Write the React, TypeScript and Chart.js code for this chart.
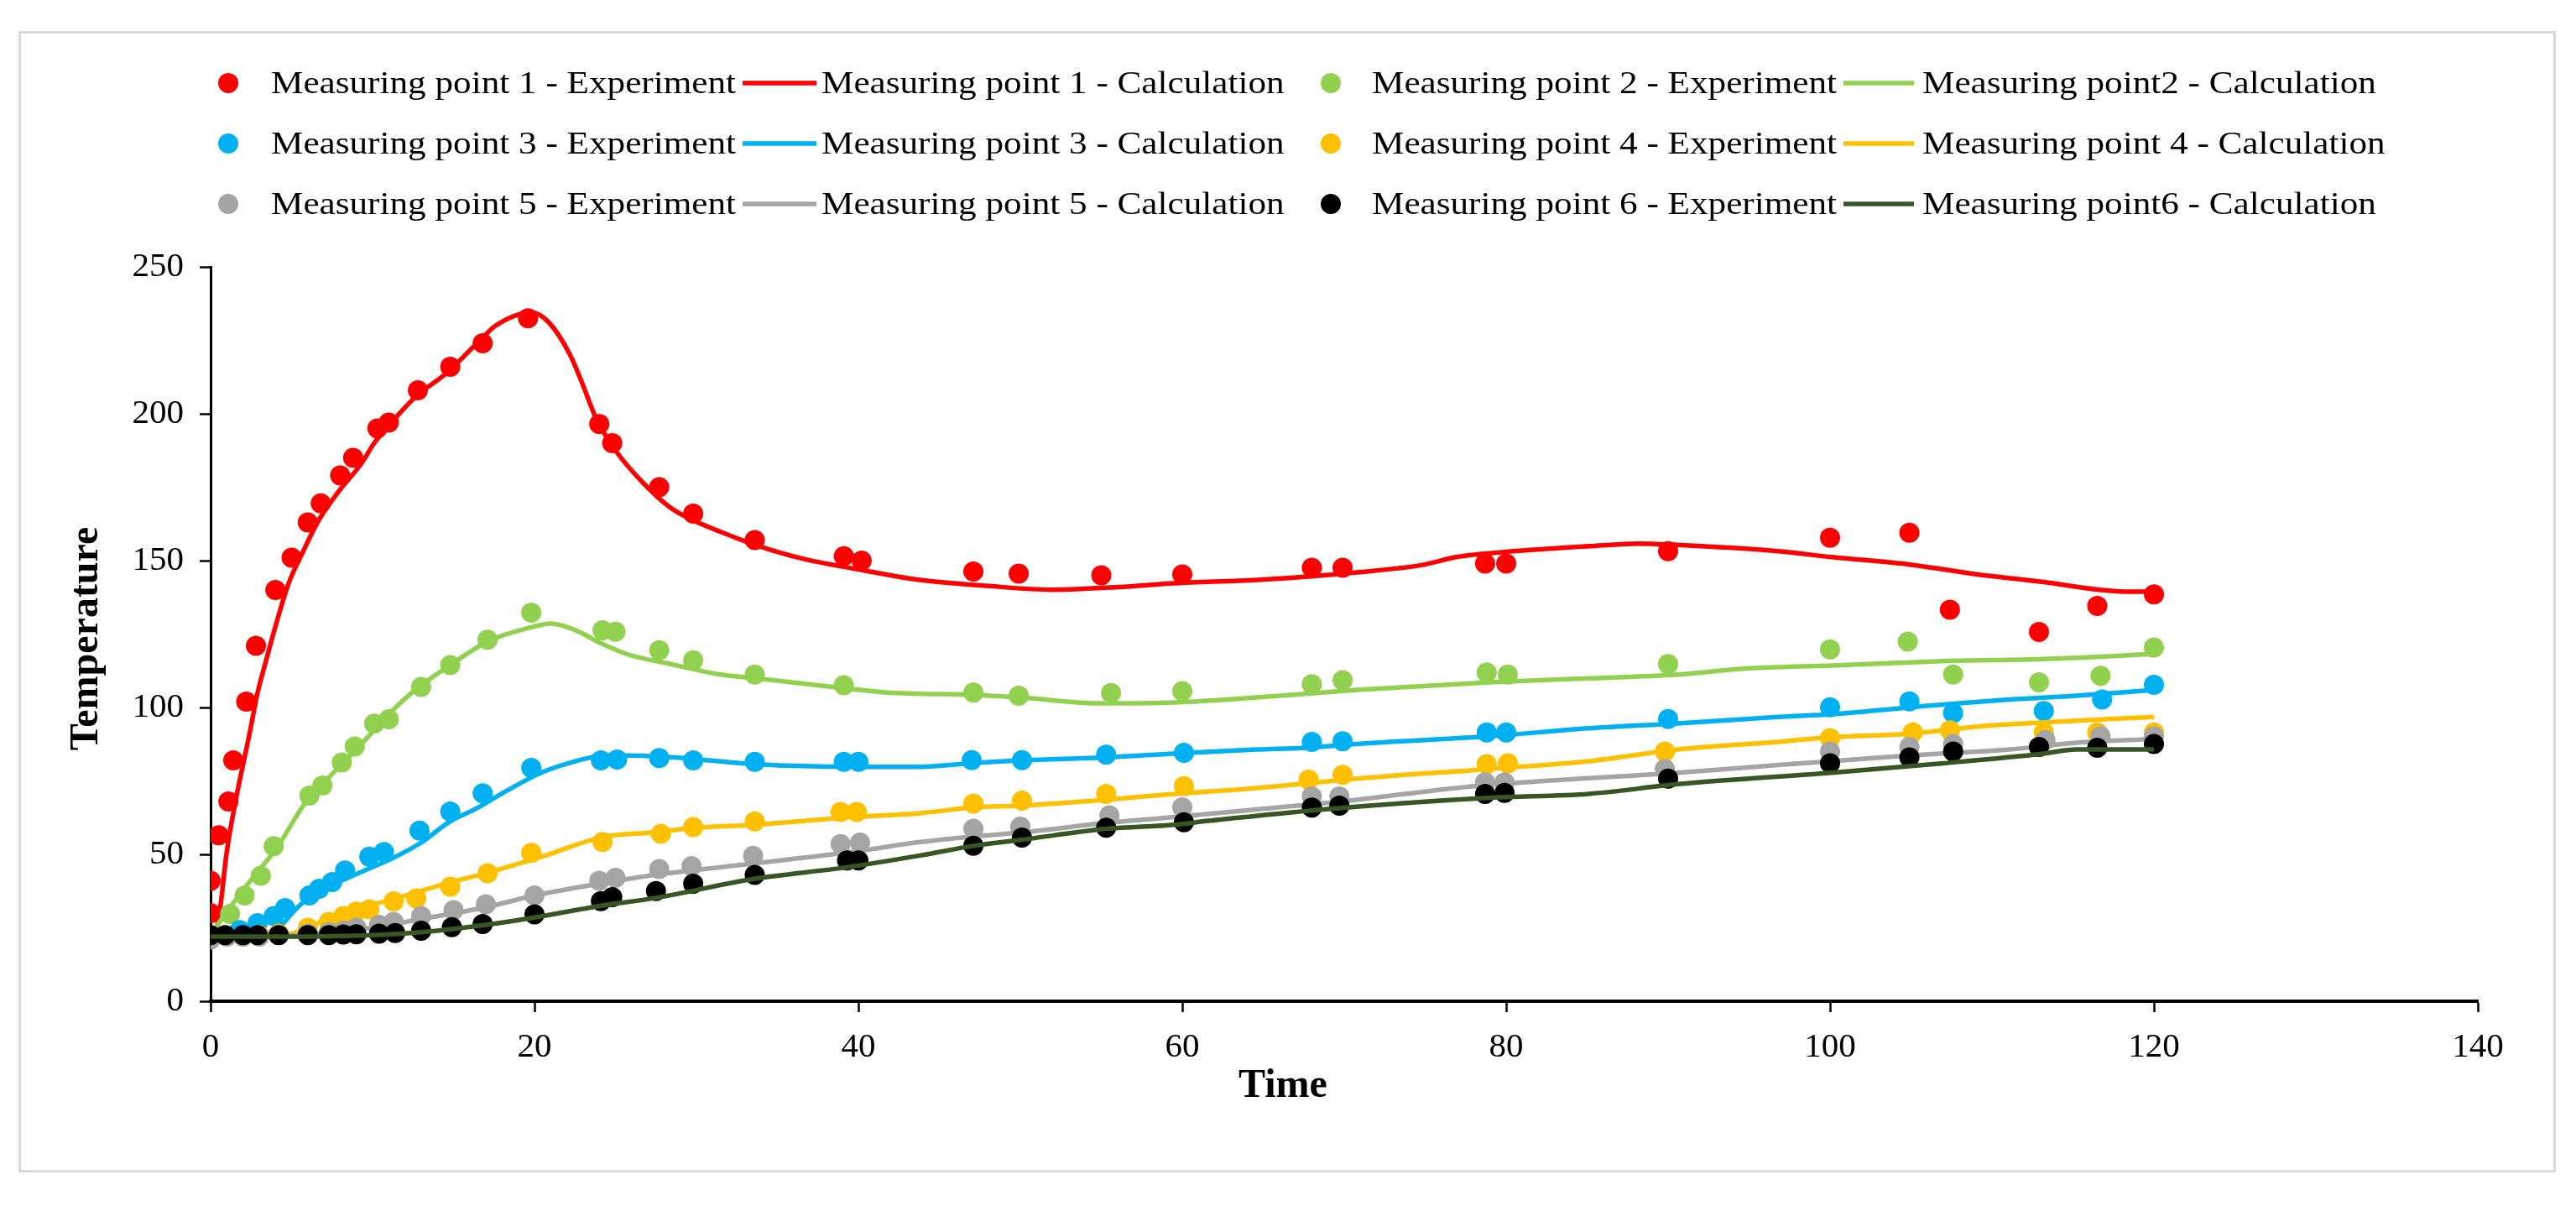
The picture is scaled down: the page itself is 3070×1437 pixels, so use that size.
import React, { useEffect, useRef } from 'react';
import { Chart, registerables } from 'chart.js';

Chart.register(...registerables);

type Pt = [number, number];

// ---- Data (time, temperature) ----
const p1Exp: Pt[] = [[0, 30], [0, 41], [0.5, 56.5], [1.1, 68], [1.4, 82], [2.2, 102], [2.8, 121], [4, 140], [5, 151], [6, 163], [6.8, 169.5], [8, 179], [8.8, 185], [10.3, 195], [11, 197], [12.8, 208], [14.8, 216], [16.8, 224], [19.6, 232.5], [24, 196.5], [24.8, 190], [27.7, 175], [29.8, 166], [33.6, 157], [39.1, 151.5], [40.2, 150], [47.1, 146.3], [49.9, 145.6], [55, 145], [60, 145.3], [68, 147.6], [69.9, 147.6], [78.7, 149], [80, 149], [90, 153.2], [100, 157.8], [104.9, 159.5], [107.4, 133.3], [112.9, 125.7], [116.5, 134.6], [120, 138.5]];
const p1Calc: Pt[] = [[0.2, 22], [0.5, 28], [1, 51], [1.5, 67], [2.4, 91], [2.9, 105], [3.4, 115.5], [4.1, 129.5], [4.8, 142], [5.7, 153], [6.7, 164], [7.9, 173.5], [9.3, 183], [10.1, 190], [11, 196], [12.7, 206], [14.6, 214], [16.9, 226.5], [17.6, 230], [19.8, 234.5], [20.9, 231], [22.2, 220], [22.9, 211], [23.8, 198.5], [25, 187.5], [26.7, 176.5], [28.4, 168], [29.8, 163.7], [31.5, 159.8], [33.6, 155.4], [36.6, 150.6], [39.7, 147.3], [43.8, 143.4], [47.9, 141.4], [52, 140.1], [56.1, 141], [59.5, 142.3], [64.6, 143.4], [70.8, 146], [74.9, 148.6], [76.9, 151.2], [80, 153], [85.1, 154.9], [88.2, 155.8], [90.3, 155.4], [96.8, 153.2], [100.1, 151.2], [105, 148.6], [109.1, 145.3], [113.2, 142.7], [116.6, 140.1], [118.5, 139.4], [120, 139.4]];

const p2Exp: Pt[] = [[1.2, 29.7], [2.1, 36], [3.1, 42.7], [3.9, 52.8], [6.1, 70], [6.9, 73.4], [8.1, 81.3], [8.9, 86.7], [10.1, 94.5], [11, 96], [13, 107], [14.8, 114.4], [17.1, 123.1], [19.8, 132.3], [24.2, 126.3], [25, 125.8], [27.7, 119.5], [29.8, 116.1], [33.6, 111.2], [39.1, 107.6], [47.1, 105.1], [49.9, 104], [55.6, 104.9], [60, 105.6], [68, 107.9], [69.9, 109.3], [78.8, 111.9], [80.1, 111.2], [90, 114.8], [100, 119.8], [104.8, 122.4], [107.6, 111.2], [112.9, 108.6], [116.7, 110.8], [120, 120.4]];
const p2Calc: Pt[] = [[0, 22], [0.5, 26.6], [2.4, 40.6], [4.1, 52.3], [5.8, 67.2], [7.5, 77.3], [9.3, 87.5], [11, 97.7], [12.7, 106.3], [14.5, 113.3], [17.2, 122.7], [19.8, 127.3], [21, 128.6], [22.4, 126.6], [24.1, 121.9], [25.8, 118], [28.4, 114.8], [31.5, 111.2], [33.6, 110], [39.1, 106.6], [41.8, 105.1], [47.1, 104.3], [50, 103.4], [55.1, 101.4], [59.5, 101.7], [64.6, 103.4], [70.8, 106], [79, 108.6], [85.1, 109.9], [90.6, 111.2], [94.7, 113.2], [100.1, 114.3], [107, 115.8], [113.2, 116.5], [120, 118.2]];

const p3Exp: Pt[] = [[1.8, 24.2], [2.9, 26.6], [3.9, 29], [4.6, 31.7], [6.1, 36], [6.7, 38.3], [7.5, 40.6], [8.3, 44.5], [9.8, 49.2], [10.7, 50.8], [12.9, 58.1], [14.8, 64.6], [16.8, 70.8], [19.8, 79.4], [24.1, 82], [25.1, 82.3], [27.7, 82.8], [29.8, 82], [33.6, 81.5], [39.1, 81.5], [40, 81.5], [47, 82.1], [50.1, 82.1], [55.3, 83.9], [60.1, 84.6], [68, 88.3], [69.9, 88.5], [78.8, 91.5], [80, 91.5], [90, 96.1], [100, 100.1], [104.9, 102.1], [107.6, 98.1], [113.2, 98.8], [116.8, 102.7], [120, 107.7]];
const p3Calc: Pt[] = [[0, 22], [3.5, 22.5], [4.3, 25.5], [5.2, 31], [6.1, 35.4], [7.8, 40.3], [9.5, 44.5], [11.2, 48.6], [13, 54], [14.7, 60.9], [16.4, 65.6], [18.2, 71.4], [20.5, 78], [22.8, 82.1], [24.1, 83.6], [25.1, 83.7], [28.4, 83.1], [33.6, 80.7], [39.7, 79.8], [43.8, 79.8], [46.9, 81], [50, 82], [55.3, 83], [59.5, 84.3], [64.6, 85.7], [67.7, 86.3], [70.8, 87.6], [79, 90.2], [85.1, 92.9], [90.6, 94.6], [96.8, 96.8], [100.1, 97.7], [105, 100.1], [111.1, 102.7], [115.2, 104], [120, 106]];

const p4Exp: Pt[] = [[0, 22], [1, 22], [2, 22], [3, 22.5], [4.2, 23], [6, 25], [7.3, 27], [8.2, 29], [9, 30.5], [9.8, 31.3], [11.3, 34], [12.7, 35], [14.8, 39], [17.1, 43.6], [19.8, 50.5], [24.2, 54.2], [27.8, 57], [29.8, 59.3], [33.6, 61.2], [38.9, 64.4], [39.9, 64.4], [47.1, 67.3], [50.1, 68.3], [55.3, 70.6], [60.1, 73.2], [67.8, 75.4], [69.9, 77.1], [78.8, 80.7], [80.1, 81], [89.8, 85], [100, 89.6], [105.1, 91.5], [107.4, 92.2], [113.2, 91.5], [116.5, 91.5], [120, 91.5]];
const p4Calc: Pt[] = [[0, 22], [4.5, 22.5], [6, 25], [7.8, 29.7], [11.2, 34.6], [14.7, 40.3], [17, 43.6], [20.5, 49.3], [24.2, 55.9], [27.4, 57.5], [29.8, 59], [33.6, 60.1], [39.7, 62.7], [43.8, 64], [47.1, 66], [50, 66.6], [55.3, 68.6], [59.5, 70.6], [64.6, 72.6], [70.8, 75.8], [79, 79.1], [85.1, 81.7], [90.6, 85.7], [96.8, 88.3], [100.1, 89.9], [105, 91.1], [109.1, 93.5], [113.2, 94.9], [120, 96.8]];

const p5Exp: Pt[] = [[0, 21], [1, 22], [2, 22], [3, 22], [4.2, 22.5], [6, 23], [7.3, 23.5], [8.2, 24], [9, 25], [10.4, 26], [11.3, 27], [13, 29], [15, 31], [17, 33], [20, 36], [24, 41], [25, 42], [27.7, 45], [29.7, 46], [33.5, 49.5], [38.9, 53.5], [40.1, 54], [47.1, 58.7], [50, 59.4], [55.5, 63.3], [60, 66], [68, 69.7], [69.7, 69.7], [78.7, 74.5], [79.9, 74.5], [89.8, 79.1], [100, 85], [104.9, 86.6], [107.6, 87.6], [113.3, 88.9], [116.7, 90.2], [120, 90.2]];
const p5Calc: Pt[] = [[0, 22], [5, 22.5], [10, 25], [13, 28], [17, 32], [20, 36], [24, 40], [27.4, 43], [33.6, 46.9], [39.7, 50.9], [43.8, 54.2], [47.1, 56.1], [50, 57.4], [55.3, 60.7], [59.5, 62.7], [64.6, 65.3], [70.8, 68.6], [76.9, 72.6], [81, 74.5], [90.6, 77.8], [96.8, 80.4], [100.1, 81.7], [105, 83.7], [111.1, 85.7], [115.2, 88], [120, 89.3]];

const p6Exp: Pt[] = [[0, 22.5], [0.9, 22.5], [2, 22.5], [2.9, 22.5], [4.2, 22.5], [6, 22.5], [7.3, 22.5], [8.2, 22.7], [9, 22.8], [10.4, 23], [11.4, 23.2], [13, 24], [14.9, 25.2], [16.8, 26.3], [20, 29.6], [24.1, 34.1], [24.8, 35.4], [27.5, 37.5], [29.8, 40], [33.6, 43], [39.3, 47.9], [40, 47.9], [47.1, 52.9], [50.1, 55.7], [55.3, 59.1], [60.1, 60.9], [68, 65.9], [69.7, 66.6], [78.7, 70.6], [79.9, 70.9], [90, 75.8], [100, 81], [104.9, 83], [107.6, 85], [112.9, 86.6], [116.5, 86.3], [120, 87.6]];
const p6Calc: Pt[] = [[0, 22], [5, 22], [10, 22.5], [13, 23.5], [17, 26], [20, 28.5], [24.1, 32.5], [27.4, 35.1], [33.6, 41.7], [39.3, 45.6], [43.8, 49.6], [47.1, 52.9], [50, 54.9], [55.3, 58.7], [59.5, 60.1], [61.6, 61.4], [68.7, 65.3], [79, 69.3], [85.1, 70.6], [90.6, 73.9], [100.1, 77.8], [107, 81], [113.2, 84.3], [115.2, 85.7], [120, 85.7]];

const seriesLabels = [
  'Measuring point 1 - Experiment', 'Measuring point 1 - Calculation',
  'Measuring point 2 - Experiment', 'Measuring point2 - Calculation',
  'Measuring point 3 - Experiment', 'Measuring point 3 - Calculation',
  'Measuring point 4 - Experiment', 'Measuring point 4 - Calculation',
  'Measuring point 5 - Experiment', 'Measuring point 5 - Calculation',
  'Measuring point 6 - Experiment', 'Measuring point6 - Calculation',
];
const seriesData: Pt[][] = [p1Exp, p1Calc, p2Exp, p2Calc, p3Exp, p3Calc, p4Exp, p4Calc, p5Exp, p5Calc, p6Exp, p6Calc];
const seriesColors = ['#FF0000', '#FF0000', '#92D050', '#92D050', '#00B0F0', '#00B0F0', '#FFC000', '#FFC000', '#A5A5A5', '#A5A5A5', '#000000', '#375623'];

const xTicksMax = 140;
const yTicksMax = 250;

const FONT = '"Liberation Serif", "Times New Roman", serif';

// layout constants (pixels)
const W = 3070;
const H = 1437;
const legendRows = [99, 171, 243];
const legendCols = [
  { kind: 'dot', a: 272, b: 272, text: 323 },
  { kind: 'line', a: 885, b: 973, text: 979 },
  { kind: 'dot', a: 1586, b: 1586, text: 1635 },
  { kind: 'line', a: 2197, b: 2281, text: 2291 },
];

const overlayPlugin = {
  id: 'overlay',
  afterDraw(chart: any) {
    const c: CanvasRenderingContext2D = chart.ctx;
    c.save();
    c.strokeStyle = '#d9d9d9';
    c.lineWidth = 3;
    c.strokeRect(23.5, 38.5, 3021, 1357);

    c.font = `38px ${FONT}`;
    const refW = c.measureText('Measuring point 1 - Experiment').width;
    const sx = 554 / refW;
    chart.data.datasets.forEach((ds: any, i: number) => {
      const row = Math.floor(i / 4);
      const col = legendCols[i % 4];
      const y = legendRows[row];
      const color = ds.borderColor;
      if (col.kind === 'dot') {
        c.fillStyle = color;
        c.beginPath();
        c.arc(col.a, y, 12, 0, Math.PI * 2);
        c.fill();
      } else {
        c.strokeStyle = color;
        c.lineWidth = 5.5;
        c.beginPath();
        c.moveTo(col.a, y);
        c.lineTo(col.b, y);
        c.stroke();
      }
      c.save();
      c.translate(col.text, y);
      c.scale(sx, 1);
      c.fillStyle = '#000';
      c.textAlign = 'left';
      c.textBaseline = 'middle';
      c.font = `38px ${FONT}`;
      c.fillText(ds.label, 0, 2);
      c.restore();
    });

    c.fillStyle = '#000';
    c.font = `bold 48px ${FONT}`;
    c.textAlign = 'center';
    c.textBaseline = 'middle';
    c.fillText('Time', 1529, 1295);
    c.save();
    c.translate(104, 761);
    c.rotate(-Math.PI / 2);
    c.fillText('Temperature', 0, 0);
    c.restore();
    c.restore();
  },
};

export default function App() {
  const canvasRef = useRef<HTMLCanvasElement>(null);

  useEffect(() => {
    document.body.style.margin = '0';
    const canvas = canvasRef.current;
    if (!canvas) return;
    const n = seriesData.length;
    const datasets = seriesData.map((arr, i) => {
      const isExp = i % 2 === 0;
      const color = seriesColors[i];
      const data = arr.map(([x, y]) => ({ x, y }));
      if (isExp) {
        return {
          label: seriesLabels[i],
          data,
          showLine: false,
          borderColor: color,
          backgroundColor: color,
          pointRadius: 12,
          pointHoverRadius: 12,
          pointBackgroundColor: color,
          pointBorderColor: color,
          pointBorderWidth: 0,
          order: n - i,
        };
      }
      return {
        label: seriesLabels[i],
        data,
        borderColor: color,
        backgroundColor: color,
        borderWidth: 5.5,
        pointRadius: 0,
        pointHoverRadius: 0,
        cubicInterpolationMode: 'monotone',
        fill: false,
        order: n - i,
      };
    });

    const chart = new Chart(canvas, {
      type: 'line',
      data: { datasets: datasets as any },
      options: {
        responsive: false,
        animation: false,
        devicePixelRatio: 1,
        layout: { padding: { left: 130, top: 318, right: 117, bottom: 100 } },
        plugins: {
          legend: { display: false },
          tooltip: { enabled: false },
        },
        scales: {
          x: {
            type: 'linear',
            min: 0,
            max: xTicksMax,
            afterFit: (s: any) => { s.height = 144; },
            ticks: { stepSize: 20, color: '#000', padding: 18, font: { family: FONT, size: 41 } },
            grid: { display: true, drawOnChartArea: false, drawTicks: true, tickLength: 13, tickWidth: 2.5, tickColor: '#000', color: '#000' },
            border: { display: true, color: '#000', width: 4 },
          },
          y: {
            type: 'linear',
            min: 0,
            max: yTicksMax,
            afterFit: (s: any) => { s.width = 121; },
            ticks: { stepSize: 50, color: '#000', padding: 19, font: { family: FONT, size: 41 } },
            grid: { display: true, drawOnChartArea: false, drawTicks: true, tickLength: 13, tickWidth: 2.5, tickColor: '#000', color: '#000' },
            border: { display: true, color: '#000', width: 3 },
          },
        },
      },
      plugins: [overlayPlugin],
    });
    return () => chart.destroy();
  }, []);

  return (
    <div style={{ position: 'fixed', left: 0, top: 0, width: W, height: H, background: '#fff' }}>
      <canvas ref={canvasRef} width={W} height={H} style={{ width: W, height: H, display: 'block' }} />
    </div>
  );
}
